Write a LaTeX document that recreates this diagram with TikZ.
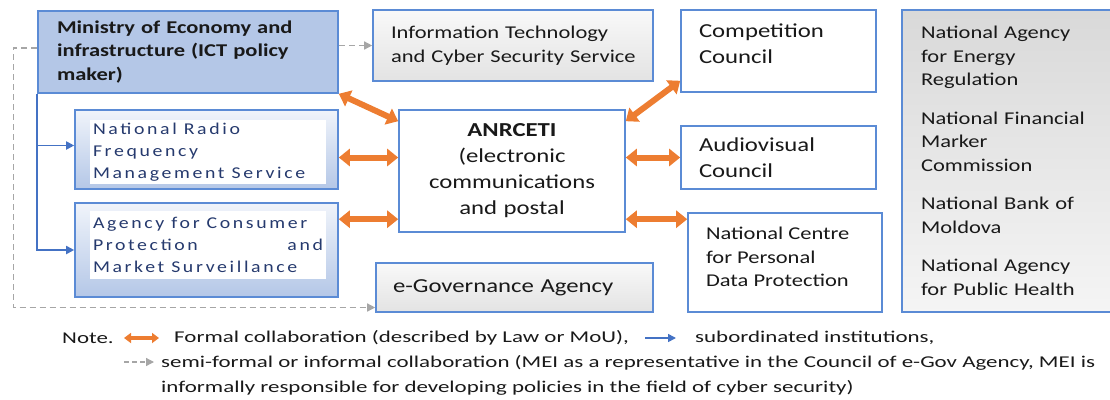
\documentclass[tikz,border=0pt]{standalone}
\usepackage{fontspec}
\setmainfont{Carlito}[FakeStretch=1.25]
\newfontfamily\spacedfont{Carlito}[FakeStretch=1.2,LetterSpace=16]
\newfontfamily\notefont{Carlito}[FakeStretch=1.39]
\usetikzlibrary{arrows.meta}

\definecolor{boxblue}{RGB}{91,139,213}
\definecolor{meiblue}{RGB}{180,199,231}
\definecolor{formalorange}{RGB}{237,125,49}
\definecolor{subblue}{RGB}{68,114,196}
\definecolor{navytext}{RGB}{38,58,110}
\definecolor{dashgray}{RGB}{166,166,166}

\newcommand{\toptext}[4]{\parbox[c][#1][t]{#2}{\raggedright\vspace*{#3}#4}}
\newcommand{\widespaces}{\spaceskip=7pt plus 2pt\relax}

\tikzset{
  box/.style={draw=boxblue, line width=1.6pt, align=left, inner sep=0pt,
    text=black!90, font=\fontsize{18}{23.5}\selectfont},
  bigtext/.style={font=\fontsize{19.8}{26}\selectfont},
  grayup/.style={top color=gray!5, bottom color=gray!22},
  graydown/.style={top color=gray!30, bottom color=gray!8},
  subbox/.style={box, top color=meiblue!20, bottom color=meiblue},
  subtext/.style={fill=white, inner sep=0pt, align=left, text=navytext,
    font=\spacedfont\fontsize{16.5}{22}\selectfont},
  formal/.style={draw=formalorange, line width=6pt,
    {Triangle[length=11pt,width=17pt]}-{Triangle[length=11pt,width=17pt]}},
  subord/.style={draw=subblue, line width=1.8pt, -{Triangle[length=8pt,width=8pt]}},
  informal/.style={draw=dashgray, line width=1.4pt, dash pattern=on 6pt off 4pt,
    -{Triangle[length=8pt,width=8pt]}},
  legend/.style={anchor=west, inner sep=0pt, align=left, text=black!90,
    font=\notefont\fontsize{16.5}{25}\selectfont},
}

\begin{document}
\begin{tikzpicture}[x=1pt,y=-1pt]
    \useasboundingbox (0,0) rectangle (1110,399);
    % Top row
    \node[box, fill=meiblue, minimum width=300pt, minimum height=82pt, text width=262pt,
      font=\fontsize{18}{23.5}\selectfont\bfseries] (mei) at (188,52)
      {Ministry of Economy and\\infrastructure (ICT policy\\maker)};
    \node[box, grayup, minimum width=280pt, minimum height=71pt, text width=244pt] (itcs) at (513,45.5)
      {Information Technology\\\mbox{and Cyber Security Service}};
    \node[box, bigtext, fill=white, minimum width=195pt] (comp) at (778.5,51)
      {\toptext{82pt}{159pt}{14pt}{Competition\\Council}};
    \node[box, graydown, minimum width=213pt, minimum height=302pt, text width=175pt] (reg) at (1008.5,161)
      {National Agency\\for Energy\\Regulation\\[15pt]National Financial\\Marker\\Commission\\[15pt]National Bank of\\Moldova\\[15pt]National Agency\\for Public Health};
    % Subordinated institutions
    \node[subbox, minimum width=263pt, minimum height=79pt] (rad) at (206.5,149.5) {};
    \node[subtext, minimum width=236pt, minimum height=64pt, text width=230pt] (radtxt) at (208,152)
      {\widespaces National Radio\\Frequency\\Management Service};
    \node[subbox, minimum width=263pt, minimum height=94pt] (cons) at (206.5,250) {};
    \node[subtext, minimum width=236pt, minimum height=68pt, text width=230pt] (constxt) at (208,244.5)
      {\widespaces Agency for Consumer\\Protection\hfill and\\Market Surveillance};
    % Regulator in the middle
    \node[box, bigtext, fill=white, minimum width=226pt, minimum height=122pt, text width=200pt, align=center] (anr) at (512,171)
      {\textbf{ANRCETI}\\(electronic\\communications\\and postal};
    \node[box, bigtext, fill=white, minimum width=195pt, minimum height=63pt, text width=159pt] (audio) at (778.5,157.5)
      {Audiovisual\\Council};
    \node[box, fill=white, minimum width=194pt] (cent) at (785,262.5)
      {\toptext{99pt}{158pt}{14pt}{National Centre\\for Personal\\Data Protection}};
    \node[box, bigtext, grayup, minimum width=277pt, minimum height=49pt, text width=243pt] (egov) at (514.5,287.5)
      {e-Governance Agency};
    % Connector ends
    \coordinate (radport) at ([yshift=-8pt]rad.east);
    \coordinate (consport) at ([yshift=-17pt]cons.north east);
    \coordinate (centport) at ([yshift=-7pt]cent.north west);
    % Subordination lines
    \draw[subord] (mei.south west) |- (cons.west);
    \draw[subord] ([yshift=4pt]mei.south west |- rad.west) -- ([yshift=4pt]rad.west);
    % Informal collaboration
    \draw[informal] (mei.east |- itcs.west) -- (itcs.west);
    \draw[informal] ([yshift=4pt]mei.west) -- ++(-24,0) |- ([yshift=-20pt]egov.west);
    % Formal collaboration
    \draw[formal] (mei.south east) -- ([yshift=-12pt]anr.north west);
    \draw[formal] (radport) -- (anr.west |- radport);
    \draw[formal] (consport) -- (anr.west |- consport);
    \draw[formal] ([yshift=-12pt]anr.north east) -- ([yshift=12pt]comp.south west);
    \draw[formal] (anr.east |- audio.west) -- (audio.west);
    \draw[formal] (anr.east |- centport) -- (centport);
    % Legend
    \node[legend] (note) at (62,338) {Note.};
    \coordinate (fa) at (124,338);
    \coordinate (fb) at (159,338);
    \draw[draw=formalorange, line width=3.5pt,
      {Triangle[length=7pt,width=10pt]}-{Triangle[length=7pt,width=10pt]}] (fa) -- (fb);
    \node[legend] (formaltxt) at (174,338) {Formal collaboration (described by Law or MoU),};
    \coordinate (sa) at (645,338);
    \coordinate (sb) at (676,338);
    \draw[subord, line width=1.6pt] (sa) -- (sb);
    \node[legend] (subtxt) at (695,338) {subordinated institutions,};
    \coordinate (ia) at (124,362);
    \coordinate (ib) at (154,362);
    \draw[informal, line width=1.3pt, dash pattern=on 5pt off 3pt] (ia) -- (ib);
    \node[legend] (semitxt) at (161,375.5)
      {semi-formal or informal collaboration (MEI as a representative in the Council of e-Gov Agency, MEI is\\informally responsible for developing policies in the field of cyber security)};
\end{tikzpicture}
\end{document}
